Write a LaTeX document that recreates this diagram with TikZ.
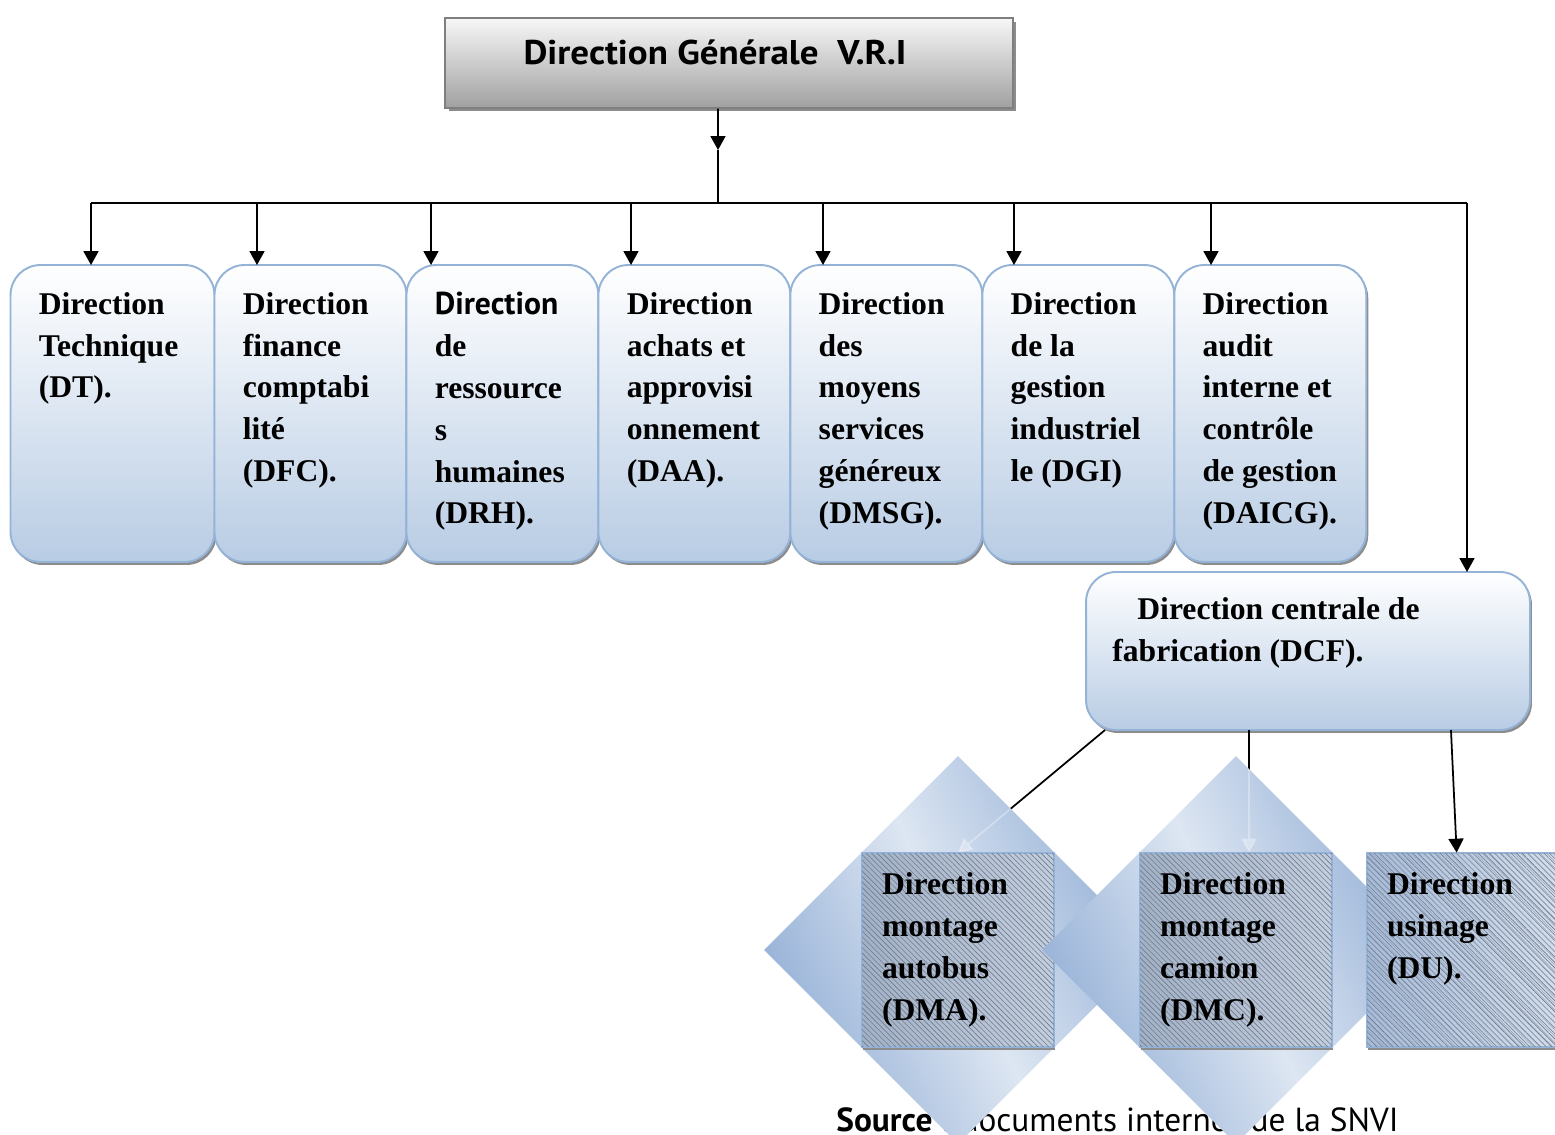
\documentclass[tikz,border=0pt]{standalone}
\usepackage{fontspec}
\setmainfont{Liberation Serif}
\newfontfamily\ptsans{PT Sans}
\usetikzlibrary{arrows.meta, positioning, shapes.geometric, shadows, patterns.meta}
\definecolor{headtop}{HTML}{F7F7F7}
\definecolor{headgray}{HTML}{A0A0A0}
\definecolor{headborder}{HTML}{7F7F7F}
\definecolor{dirborder}{HTML}{95B3D7}
\definecolor{dirfill}{HTML}{B8CCE4}
\definecolor{dmdblue}{HTML}{93AFD6}
\definecolor{dmdlight}{HTML}{DDE6F2}
\definecolor{hatchdark}{HTML}{A3B1C6}
\definecolor{hatchbase}{HTML}{C3CEDD}
\definecolor{hatchline}{HTML}{6F7C90}
\definecolor{dudark}{HTML}{A6BCDB}
\definecolor{dulight}{HTML}{D3DEEC}
\definecolor{shadowgray}{HTML}{8C8C8C}
\tikzset{
    headbox/.style={draw=headborder, line width=0.8pt, top color=headtop, bottom color=headgray, minimum width=11.36cm, minimum height=1.8cm, inner sep=0pt, drop shadow={shadow xshift=0.07cm, shadow yshift=-0.07cm, fill=shadowgray, opacity=1}},
    dirbox/.style={draw=dirborder, line width=1.1pt, rounded corners=0.6cm, top color=white, bottom color=dirfill, minimum width=3.84cm, minimum height=5.94cm, inner sep=0pt, outer sep=0pt, drop shadow={shadow xshift=0.04cm, shadow yshift=-0.06cm, fill=shadowgray, opacity=1}},
    dirtext/.style={anchor=north west, align=left, inner xsep=0.56cm, inner ysep=0.54cm, font=\fontsize{18}{23.8}\selectfont\bfseries},
    dmdshape/.style={diamond, aspect=1, minimum width=7.76cm, minimum height=7.76cm, inner sep=0pt, left color=dmdblue, right color=dmdblue, middle color=dmdlight, shading angle=115},
    subbox/.style={draw=dirborder, line width=1.1pt, minimum width=3.84cm, minimum height=3.88cm, inner sep=0pt, left color=hatchdark, right color=hatchbase, postaction={pattern={Lines[angle=-45, distance=2.2pt, line width=0.35pt]}, pattern color=hatchline}, drop shadow={shadow xshift=0.02cm, shadow yshift=-0.06cm, fill=shadowgray, opacity=1}},
    arr/.style={-{Triangle[length=0.28cm, width=0.3cm]}, line width=1pt},
    ghost/.style={-{Triangle[length=0.28cm, width=0.3cm]}, line width=1pt, draw=white, fill=white, opacity=0.3},
}

\begin{document}
\begin{tikzpicture}[x=0.02cm, y=-0.02cm]
\clip (0,0) rectangle (1555,1135);

% ============================================================
% DIRECTION GENERALE
% ============================================================
\node[headbox] (dg) at (729,63) {};
\node[font=\ptsans\bfseries\fontsize{19.5}{22}\selectfont] (dg-text) at (715,52) {\scalebox{1.08}[1]{Direction Générale\ \ V.R.I}};

\coordinate (dg-tip) at (718,150);
\coordinate (bus) at (718,203);
\draw[arr] ([xshift=-0.22cm]dg.south) -- (dg-tip);
\draw[line width=1pt] (dg-tip) -- (bus);

% ============================================================
% DIRECTIONS
% ============================================================
\node[dirbox, minimum width=4.08cm] (dt) at (112.5,413.5) {};
\node[dirbox, right=0cm of dt] (dfc) {};
\node[dirbox, right=0cm of dfc] (drh) {};
\node[dirbox, right=0cm of drh] (daa) {};
\node[dirbox, right=0cm of daa] (dmsg) {};
\node[dirbox, right=0cm of dmsg] (dgi) {};
\node[dirbox, right=0cm of dgi] (daicg) {};

\node[dirtext] (dt-text) at (dt.north west) {Direction\\Technique\\(DT).};
\node[dirtext] (dfc-text) at (dfc.north west) {Direction\\finance\\comptabi\\lité\\(DFC).};
\node[dirtext] (drh-text) at (drh.north west) {{\ptsans Direction}\\de\\ressource\\s\\humaines\\(DRH).};
\node[dirtext] (daa-text) at (daa.north west) {Direction\\achats et\\approvisi\\onnement\\(DAA).};
\node[dirtext] (dmsg-text) at (dmsg.north west) {Direction\\des\\moyens\\services\\généreux\\(DMSG).};
\node[dirtext] (dgi-text) at (dgi.north west) {Direction\\de la\\gestion\\industriel\\le (DGI)};
\node[dirtext] (daicg-text) at (daicg.north west) {Direction\\audit\\interne et\\contrôle\\de gestion\\(DAICG).};

% bus and arrows
\foreach \n/\x in {dt/91, dfc/257, drh/431, daa/631, dmsg/823, dgi/1014, daicg/1211} {
    \coordinate (t-\n) at (\x,203);
    \draw[arr] (t-\n) -- (t-\n |- \n.north);
}
\coordinate (bus-end) at (1467,203);
\draw[line width=1pt] (t-dt) -- (bus-end);

% ============================================================
% DCF
% ============================================================
\node[dirbox, minimum width=8.88cm, minimum height=3.16cm] (dcf) at (1308,651) {};
\node[dirtext, inner xsep=0.52cm, inner ysep=0.5cm] (dcf-text) at (dcf.north west) {\hspace*{0.5cm}Direction centrale de\\fabrication (DCF).};
\draw[arr] (bus-end) -- (bus-end |- dcf.north);

% Source (under the diamonds)
\node[anchor=base west, inner sep=0pt, font=\ptsans\fontsize{19}{22}\selectfont] (source) at (836,1131) {\textbf{Source} : documents internes de la SNVI};

\coordinate (dcf-a) at ([xshift=0.38cm]dcf.south west);
\coordinate (dcf-b) at ([xshift=3.26cm]dcf.south west);
\coordinate (dcf-c) at ([xshift=7.3cm]dcf.south west);

\node[minimum width=3.84cm, minimum height=3.88cm] (dma) at (958,950) {};
\node[minimum width=3.84cm, minimum height=3.88cm] (dmc) at (1236,950) {};
\node[minimum width=3.84cm, minimum height=3.88cm] (du) at (1463,950) {};
\draw[arr] (dcf-a) -- (dma.north);
\draw[arr] (dcf-b) -- (dcf-b |- dmc.north);

% ============================================================
% SUB-DIRECTIONS
% ============================================================
\node[dmdshape] (dma-bg) at (958,950) {};
\begin{scope}
    \clip (dma-bg.north) -- (dma-bg.east) -- (dma-bg.south) -- (dma-bg.west) -- cycle;
    \draw[ghost] (dcf-a) -- (dma.north);
\end{scope}
\node[subbox] at (dma) {};
\node[dmdshape] (dmc-bg) at (1236,950) {};
\begin{scope}
    \clip (dmc-bg.north) -- (dmc-bg.east) -- (dmc-bg.south) -- (dmc-bg.west) -- cycle;
    \draw[ghost] (dcf-b) -- (dcf-b |- dmc.north);
\end{scope}
\node[subbox] at (dmc) {};
\node[subbox, left color=dudark, right color=dulight, postaction={pattern={Lines[angle=-45, distance=2.6pt, line width=0.3pt]}, pattern color=hatchline!70!white}] at (du) {};
\draw[arr] (dcf-c) -- ([xshift=1.8cm]du.north west);

\node[dirtext, inner xsep=0.4cm, inner ysep=0.4cm] (dma-text) at (dma.north west) {Direction\\montage\\autobus\\(DMA).};
\node[dirtext, inner xsep=0.4cm, inner ysep=0.4cm] (dmc-text) at (dmc.north west) {Direction\\montage\\camion\\(DMC).};
\node[dirtext, inner xsep=0.4cm, inner ysep=0.4cm] (du-text) at (du.north west) {Direction\\usinage\\(DU).};

\end{tikzpicture}
\end{document}
